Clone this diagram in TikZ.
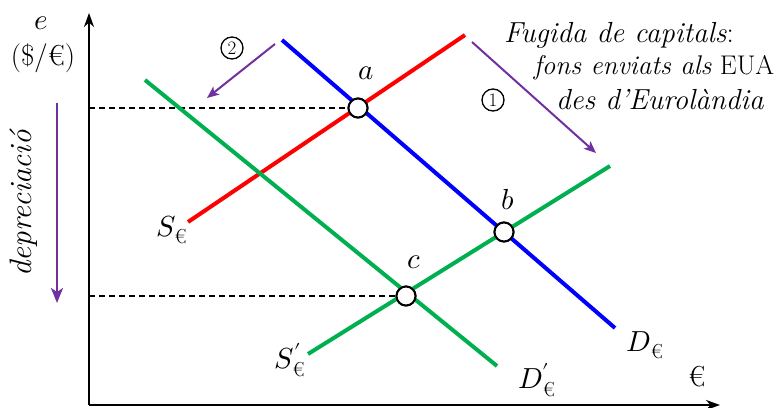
\documentclass[tikz,border=0pt]{standalone}
\usepackage{amsmath}
\usepackage{unicode-math}
\setmathfont{Latin Modern Math}
\usetikzlibrary{arrows.meta}
\definecolor{myred}{RGB}{255,0,0}
\definecolor{myblue}{RGB}{0,0,255}
\definecolor{mygreen}{RGB}{0,176,80}
\definecolor{mypurple}{RGB}{112,48,160}
\begin{document}
\begin{tikzpicture}[x=1pt,y=-1pt,
  font=\fontsize{29}{34}\selectfont,
  axis/.style={line width=2.5pt,-{Stealth[length=14pt,width=10pt]}},
  curve/.style={line width=4pt},
  guide/.style={line width=1.3pt,dash pattern=on 6pt off 4pt},
  movearrow/.style={mypurple,line width=2pt,-{Stealth[length=12pt,width=10pt,inset=3pt]}},
  eqpt/.style={circle,draw=black,fill=white,line width=2pt,minimum size=19pt,inner sep=0pt},
  stepnum/.style={circle,draw=black,line width=1.3pt,minimum size=22pt,inner sep=0pt,font=\fontsize{19}{19}\selectfont},
  lbl/.style={inner sep=0pt,anchor=center}]
\useasboundingbox (0,0) rectangle (779,407);
% axes
\coordinate (O) at (89,405);
\coordinate (Ytop) at (89,13);
\coordinate (Xend) at (720,405);
\draw[axis] (O) -- (Ytop);
\draw[axis] (O) -- (Xend);
% curve end points
\coordinate (S1) at (188,222);
\coordinate (S2) at (465,35);
\coordinate (D1) at (282,40);
\coordinate (D2) at (615,328);
\coordinate (Dp1) at (145,80);
\coordinate (Dp2) at (497,366);
\coordinate (Sp1) at (308,354);
\coordinate (Sp2) at (610,166);
% equilibrium points
\node[eqpt] (a) at (358,108) {};
\node[eqpt] (b) at (504,232) {};
\node[eqpt] (c) at (406,296) {};
\coordinate (ya) at (89,108);
\coordinate (yc) at (89,296);
% dashed guides
\draw[guide] (ya) -- (a.west);
\draw[guide] (yc) -- (c.west);
% curves
\draw[curve,myred] (S1) -- (S2);
\draw[curve,myblue] (D1) -- (D2);
\draw[curve,mygreen] (Dp1) -- (Dp2);
\draw[curve,mygreen] (Sp1) -- (Sp2);
% redraw points on top
\node[eqpt] at (a) {};
\node[eqpt] at (b) {};
\node[eqpt] at (c) {};
% purple shift arrows
\coordinate (m2s) at (275,44);
\coordinate (m2e) at (207,98);
\coordinate (m1s) at (472,42);
\coordinate (m1e) at (596,153);
\coordinate (deps) at (57,103);
\coordinate (depe) at (57,303);
\draw[movearrow] (m2s) -- (m2e);
\draw[movearrow] (m1s) -- (m1e);
\draw[mypurple,line width=2.5pt,-{Stealth[length=15pt,width=12pt,inset=4pt]}] (deps) -- (depe);
% labels
\node[lbl] (le) at (41,23) {$e$};
\node[lbl] (lunit) at (43,58) {(\$/€)};
\node[lbl,font=\fontsize{31}{34}\selectfont] (ldep) at (24,203) [rotate=90] {\textit{depreciació}};
\node[stepnum] (n2) at (232,48) {2};
\node[stepnum] (n1) at (493,100) {1};
\node[lbl] (la) at (366,73) {$a$};
\node[lbl] (lb) at (508,200) {$b$};
\node[lbl] (lc) at (414,262) {$c$};
\node[lbl] (lS) at (172,230) {$S_{\text{€}}$};
\node[lbl] (lSp) at (290,360) {$S'_{\text{€}}$};
\node[lbl] (lD) at (645,345) {$D_{\text{€}}$};
\node[lbl] (lDp) at (537,380) {$D'_{\text{€}}$};
\node[lbl] (leuro) at (697,377) {€};
\node[lbl] (t1) at (619,35) {\textit{Fugida de capitals}:};
\node[lbl,font=\fontsize{27}{32}\selectfont] (t2) at (654,68) {\textit{fons enviats als} EUA};
\node[lbl] (t3) at (660,100) {\textit{des d'Eurolàndia}};
\end{tikzpicture}
\end{document}
